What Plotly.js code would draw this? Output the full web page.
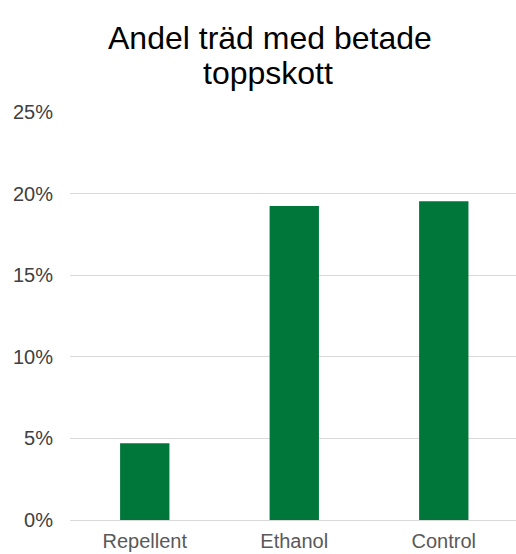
<!DOCTYPE html>
<html>
<head>
<meta charset="utf-8">
<script src="https://cdn.plot.ly/plotly-3.0.1.min.js"></script>
<style>html,body{margin:0;padding:0;background:#fff;}#chart{width:516px;height:554px;}</style>
</head>
<body>
<div id="chart"></div>
<script>
const categories = ["Repellent", "Ethanol", "Control"];
const values = [0.047, 0.1924, 0.1953];
const yTickVals = [0, 0.05, 0.10, 0.15, 0.20, 0.25];
const yTickText = ["0%", "5%", "10%", "15%", "20%", "25%"];
const titleLines = ["Andel träd med betade", "toppskott"];

const trace = {
  type: "bar",
  x: categories,
  y: values,
  width: 0.33,
  marker: {color: "#00773A"},
  hoverinfo: "none"
};

const layout = {
  width: 516,
  height: 554,
  margin: {l: 70, r: 0, t: 112, b: 34, pad: 0},
  paper_bgcolor: "#fff",
  plot_bgcolor: "#fff",
  font: {family: "Liberation Sans, Arial, sans-serif"},
  showlegend: false,
  xaxis: {
    type: "category",
    range: [-0.5, 2.483],
    showgrid: false,
    zeroline: false,
    showline: true,
    linecolor: "#d9d9d9",
    linewidth: 1,
    ticks: "",
    ticklabelstandoff: 3,
    tickfont: {size: 20, color: "#595959"},
    fixedrange: true
  },
  yaxis: {
    range: [0, 0.25],
    tickvals: yTickVals,
    ticktext: yTickText,
    showgrid: true,
    gridcolor: "#d9d9d9",
    gridwidth: 1,
    zeroline: false,
    showline: false,
    ticks: "",
    ticklabelstandoff: 16,
    tickfont: {size: 20, color: "#404040"},
    fixedrange: true
  },
  annotations: [
    {text: titleLines[0], xref: "paper", yref: "paper", x: (269.5-70)/446, y: 1, yshift: 112-38, xanchor: "center", yanchor: "middle", showarrow: false, font: {size: 32, color: "#000"}},
    {text: titleLines[1], xref: "paper", yref: "paper", x: (268-70)/446, y: 1, yshift: 112-73, xanchor: "center", yanchor: "middle", showarrow: false, font: {size: 32, color: "#000"}}
  ]
};

Plotly.newPlot("chart", [trace], layout, {displayModeBar: false, staticPlot: true});
</script>
</body>
</html>
